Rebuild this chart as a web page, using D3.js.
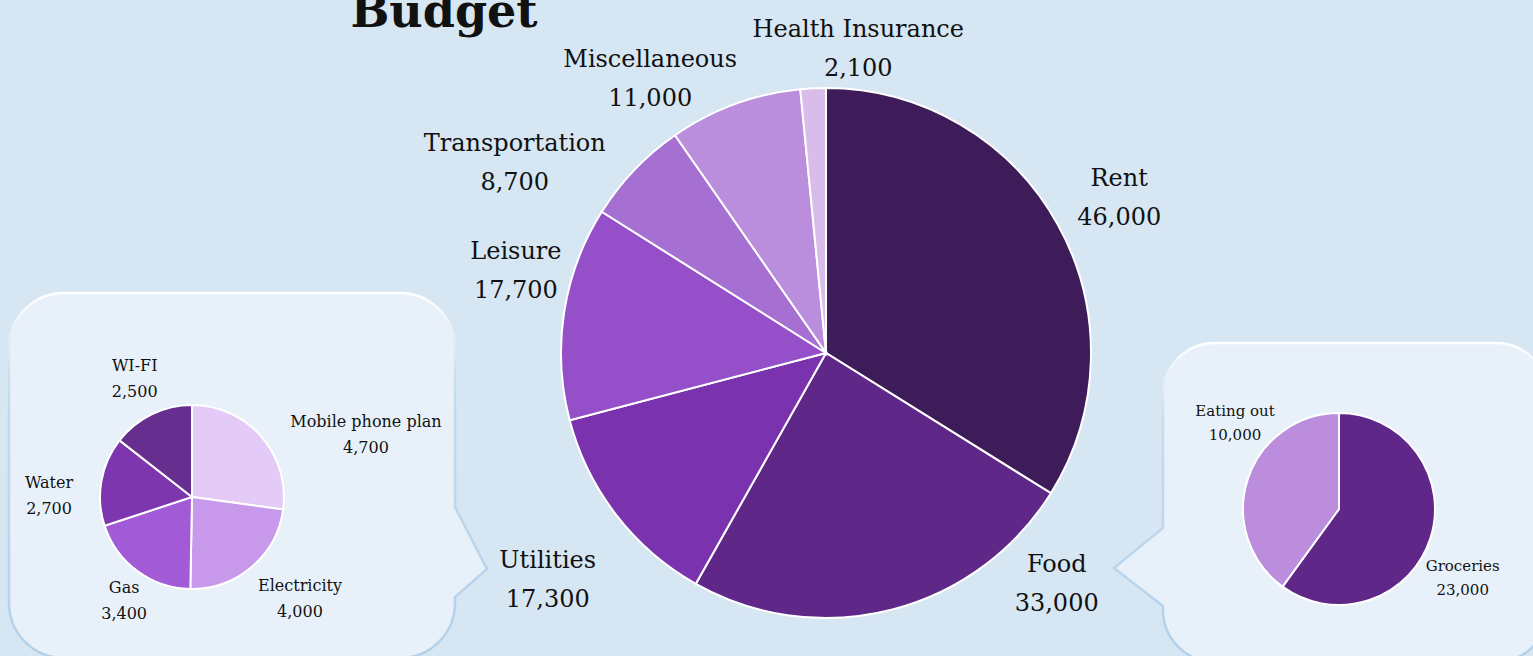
<!DOCTYPE html>
<html>
<head>
<meta charset="utf-8">
<script src="https://cdn.jsdelivr.net/npm/d3@7"></script>
<style>
	body { margin: 0; background: #d6e6f3; overflow: hidden; }
	text { font-family: "DejaVu Serif", serif; fill: #111; }
</style>
</head>
<body>
<svg id="chart"></svg>
<script>
// main budget
const mainNames = ['Rent', 'Food', 'Utilities', 'Leisure', 'Transportation', 'Miscellaneous', 'Health Insurance'];
const mainValues = [46000, 33000, 17300, 17700, 8700, 11000, 2100];
const mainColors = ['#3e1b59', '#5f2888', '#7a32ae', '#9550c9', '#a66fd2', '#bb8ddd', '#d9bce9'];

// utilities breakdown
const utilNames = ['Mobile phone plan', 'Electricity', 'Gas', 'Water', 'WI-FI'];
const utilValues = [4700, 4000, 3400, 2700, 2500];
const utilColors = ['#e4cbf7', '#c898ea', '#a25ad7', '#7e36ae', '#662f8f'];

// food breakdown (the slices in the picture are drawn 60/40, not to the labelled values)
const foodNames = ['Groceries', 'Eating out'];
const foodValues = [23000, 10000];
const foodShares = [60, 40];
const foodColors = ['#5f2888', '#bc8ddc'];

const w = 1533;
const h = 656;
const fmt = d3.format(',');

let svg = d3.select('#chart')
	.attr('width', w)
	.attr('height', h);

let defs = svg.append('defs');
let grad = defs.append('linearGradient')
	.attr('id', 'boxStroke')
	.attr('x1', 0).attr('y1', 0).attr('x2', 0).attr('y2', 1);
grad.append('stop').attr('offset', '0%').attr('stop-color', '#ffffff');
grad.append('stop').attr('offset', '25%').attr('stop-color', '#c6dcef');
grad.append('stop').attr('offset', '100%').attr('stop-color', '#b3d0ea');

// callout box: rounded rect with a pointer on one side
function calloutPath(x0, y0, x1, y1, r, side, p) {
	let path = d3.path();
	path.moveTo(x0 + r, y0);
	path.lineTo(x1 - r, y0);
	path.arcTo(x1, y0, x1, y0 + r, r);
	if (side == 'right') {
		path.lineTo(x1, p[0]);
		path.lineTo(p[2], p[1]);
		path.lineTo(x1, p[3]);
	}
	path.lineTo(x1, y1 - r);
	path.arcTo(x1, y1, x1 - r, y1, r);
	path.lineTo(x0 + r, y1);
	path.arcTo(x0, y1, x0, y1 - r, r);
	if (side == 'left') {
		path.lineTo(x0, p[3]);
		path.lineTo(p[2], p[1]);
		path.lineTo(x0, p[0]);
	}
	path.lineTo(x0, y0 + r);
	path.arcTo(x0, y0, x0 + r, y0, r);
	path.closePath();
	return path.toString();
}

svg.append('path')
	.attr('d', calloutPath(9, 293, 455, 658, 55, 'right', [507, 569, 487, 597]))
	.style('fill', '#e8f1f9')
	.style('stroke', 'url(#boxStroke)')
	.style('stroke-width', 2.5);

svg.append('path')
	.attr('d', calloutPath(1163, 343, 1548, 662, 52, 'left', [528, 568, 1114, 606]))
	.style('fill', '#e8f1f9')
	.style('stroke', 'url(#boxStroke)')
	.style('stroke-width', 2.5);

// label placement: [angle shift from slice middle (deg), distance from centre]
const mainLabelPos = [[2.4, 328], [-29.7, 332], [-2.5, 364], [4.8, 319], [-13.3, 361], [-13.3, 319], [9, 298]];
const utilLabelPos = [[23, 183], [-4.7, 152], [-4.4, 128], [-11.5, 143], [-0.8, 127]];
const foodLabelPos = [[12.8, 144], [20, 132]];

function makePie(cx, cy, r, names, values, shares, colors, labelPos, fontSize, lineGap) {
	let pie = d3.pie().sort(null).value((d, i) => shares[i])(values);
	let arc = d3.arc().innerRadius(0).outerRadius(r);
	let g = svg.append('g').attr('transform', `translate(${cx},${cy})`);

	g.selectAll('path')
		.data(pie)
		.enter()
		.append('path')
		.attr('d', arc)
		.style('fill', (d, i) => colors[i])
		.style('stroke', '#fff')
		.style('stroke-width', 2);

	let labels = g.selectAll('text')
		.data(pie)
		.enter()
		.append('text')
		.style('font-size', fontSize + 'px')
		.style('text-anchor', 'middle')
		.attr('transform', (d, i) => {
			let a = (d.startAngle + d.endAngle) / 2 + labelPos[i][0] * Math.PI / 180;
			let dist = labelPos[i][1];
			return `translate(${dist * Math.sin(a)},${-dist * Math.cos(a)})`;
		});

	labels.append('tspan')
		.attr('x', 0)
		.attr('y', -lineGap / 2)
		.text((d, i) => names[i]);
	labels.append('tspan')
		.attr('x', 0)
		.attr('y', lineGap / 2)
		.text(d => fmt(d.data));
}

makePie(826, 353, 265, mainNames, mainValues, mainValues, mainColors, mainLabelPos, 24, 39);
makePie(192, 497, 92, utilNames, utilValues, utilValues, utilColors, utilLabelPos, 16, 26);
makePie(1339, 509, 96, foodNames, foodValues, foodShares, foodColors, foodLabelPos, 15, 24);

svg.append('text')
	.attr('x', 444)
	.attr('y', 27)
	.style('text-anchor', 'middle')
	.style('font-size', '46px')
	.style('font-weight', 'bold')
	.text('Budget');
</script>
</body>
</html>
